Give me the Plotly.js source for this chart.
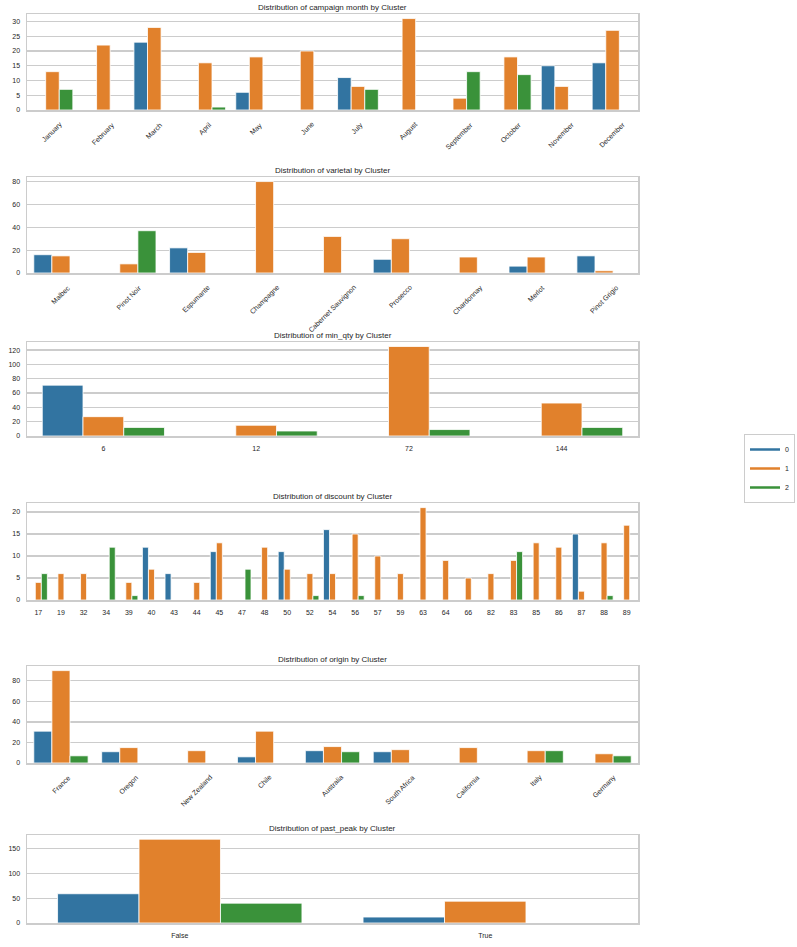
<!DOCTYPE html>
<html><head><meta charset="utf-8">
<script src="https://cdn.plot.ly/plotly-3.0.1.min.js"></script>
<style>html,body{margin:0;padding:0;background:#fff}#chart{width:797px;height:947px}</style>
</head><body><div id="chart"></div>
<script>
// ---------- DATA ----------
const clusterNames = ['0', '1', '2'];

const panelTitles = [
  'Distribution of campaign month by Cluster',
  'Distribution of varietal by Cluster',
  'Distribution of min_qty by Cluster',
  'Distribution of discount by Cluster',
  'Distribution of origin by Cluster',
  'Distribution of past_peak by Cluster'
];

const months = ['January','February','March','April','May','June','July','August','September','October','November','December'];
const monthC0 = [0, 0, 23, 0, 6, 0, 11, 0, 0, 0, 15, 16];
const monthC1 = [13, 22, 28, 16, 18, 20, 8, 31, 4, 18, 8, 27];
const monthC2 = [7, 0, 0, 1, 0, 0, 7, 0, 13, 12, 0, 0];

const varietals = ['Malbec','Pinot Noir','Espumante','Champagne','Cabernet Sauvignon','Prosecco','Chardonnay','Merlot','Pinot Grigio'];
const varietalC0 = [16, 0, 22, 0, 0, 12, 0, 6, 15];
const varietalC1 = [15, 8, 18, 80, 32, 30, 14, 14, 2];
const varietalC2 = [0, 37, 0, 0, 0, 0, 0, 0, 0];

const minQty = ['6', '12', '72', '144'];
const minQtyC0 = [71, 0, 0, 0];
const minQtyC1 = [27, 15, 125, 46];
const minQtyC2 = [12, 7, 9, 12];

const discounts = ['17','19','32','34','39','40','43','44','45','47','48','50','52','54','56','57','59','63','64','66','82','83','85','86','87','88','89'];
const discountC0 = [0,0,0,0,0,12,6,0,11,0,0,11,0,16,0,0,0,0,0,0,0,0,0,0,15,0,0];
const discountC1 = [4,6,6,0,4,7,0,4,13,0,12,7,6,6,15,10,6,21,9,5,6,9,13,12,2,13,17];
const discountC2 = [6,0,0,12,1,0,0,0,0,7,0,0,1,0,1,0,0,0,0,0,0,11,0,0,0,1,0];

const origins = ['France','Oregon','New Zealand','Chile','Australia','South Africa','California','Italy','Germany'];
const originC0 = [31, 11, 0, 6, 12, 11, 0, 0, 0];
const originC1 = [90, 15, 12, 31, 16, 13, 15, 12, 9];
const originC2 = [7, 0, 0, 0, 11, 0, 0, 12, 7];

const pastPeak = ['False', 'True'];
const pastPeakC0 = [59, 12];
const pastPeakC1 = [169, 44];
const pastPeakC2 = [40, 0];

// ---------- STYLE / LAYOUT ----------
const colors = ['#3274a1', '#e1812c', '#3a923a'];
const W = 797, H = 947, ML = 27, MR = 159;
const panelData = [
  {cats: months, series: [monthC0, monthC1, monthC2]},
  {cats: varietals, series: [varietalC0, varietalC1, varietalC2]},
  {cats: minQty, series: [minQtyC0, minQtyC1, minQtyC2]},
  {cats: discounts, series: [discountC0, discountC1, discountC2]},
  {cats: origins, series: [originC0, originC1, originC2]},
  {cats: pastPeak, series: [pastPeakC0, pastPeakC1, pastPeakC2]}
];
const boxes = [[14,110],[177,273],[342,436],[503,600],[666,763],[835,923]];
const dticks = [5, 20, 20, 5, 20, 50];
const rotated = [true, true, false, false, true, false];

const font = 'Arial, "Liberation Sans", sans-serif';
const textColor = '#262626';
const frameColor = '#cccccc';

const traces = [];
const layout = {
  width: W, height: H,
  margin: {l: ML, r: MR, t: 0, b: 0},
  paper_bgcolor: '#fff', plot_bgcolor: '#fff',
  barmode: 'group', bargap: 0.2, bargroupgap: 0,
  font: {family: font, size: 7, color: textColor},
  showlegend: true,
  legend: {
    x: (744 - ML) / (W - ML - MR), y: 1 - 434 / H, xanchor: 'left', yanchor: 'top',
    bordercolor: frameColor, borderwidth: 1, bgcolor: '#fff',
    font: {family: font, size: 7, color: textColor}, tracegroupgap: 0, itemwidth: 30
  },
  annotations: []
};

panelData.forEach((p, k) => {
  const idx = k === 0 ? '' : String(k + 1);
  const xa = 'x' + idx, ya = 'y' + idx;
  const [top, bottom] = boxes[k];
  const dom = [1 - bottom / H, 1 - top / H];
  const maxV = Math.max(...p.series.flat());
  p.series.forEach((vals, c) => {
    traces.push({
      type: 'bar', x: p.cats, y: vals, xaxis: xa, yaxis: ya,
      name: clusterNames[c], showlegend: false, hoverinfo: 'skip',
      marker: {color: colors[c], line: {color: '#ffffff', width: 0.8}}
    });
  });
  layout['xaxis' + idx] = {
    type: 'category', anchor: ya, domain: [0, 1], range: [-0.5, p.cats.length - 0.5],
    showline: true, mirror: true, linecolor: frameColor, linewidth: 1.5,
    showgrid: false, zeroline: false, ticks: '', fixedrange: true,
    showticklabels: !rotated[k], ticklabelstandoff: 5,
    tickfont: {family: font, size: 7, color: textColor}
  };
  layout['yaxis' + idx] = {
    anchor: xa, domain: dom, range: [0, maxV * 1.05], dtick: dticks[k], tick0: 0,
    showline: true, mirror: true, linecolor: frameColor, linewidth: 1.5,
    showgrid: true, gridcolor: frameColor, gridwidth: 1.2, zeroline: false,
    ticks: '', ticklabelstandoff: 4, fixedrange: true,
    tickfont: {family: font, size: 7, color: textColor}
  };
  layout.annotations.push({
    xref: 'paper', yref: 'paper', x: 0.5, y: dom[1], xanchor: 'center', yanchor: 'bottom',
    yshift: 0, showarrow: false, text: panelTitles[k],
    font: {family: font, size: 8, color: textColor}
  });
  if (rotated[k]) {
    p.cats.forEach((c, i) => {
      layout.annotations.push({
        xref: xa, yref: 'paper', x: i, y: dom[0], xanchor: 'center', yanchor: 'top',
        yshift: -8, textangle: -45, showarrow: false, text: c,
        font: {family: font, size: 7, color: textColor}
      });
    });
  }
});

clusterNames.forEach((n, c) => {
  traces.push({
    type: 'scatter', mode: 'lines', x: [null], y: [null], name: n,
    line: {color: colors[c], width: 2.5}, showlegend: true, hoverinfo: 'skip'
  });
});

Plotly.newPlot('chart', traces, layout, {staticPlot: true, displayModeBar: false});
</script>
</body></html>
